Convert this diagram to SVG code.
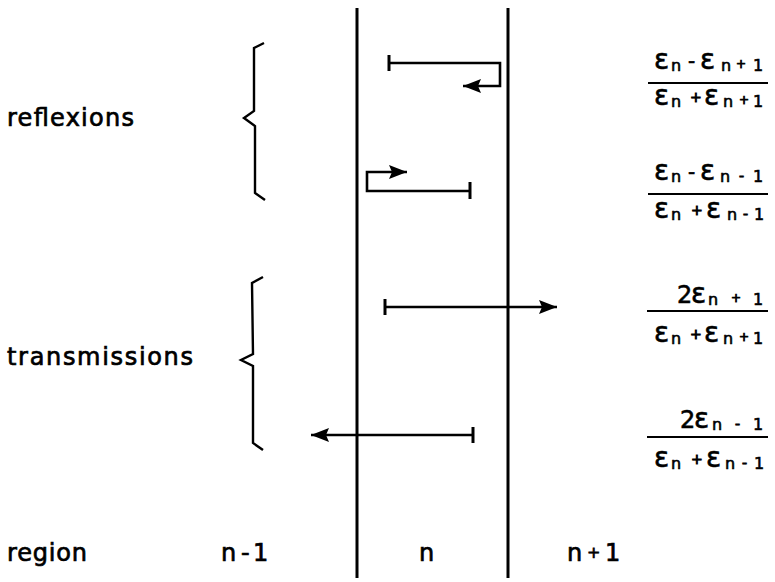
<svg xmlns="http://www.w3.org/2000/svg" width="775" height="582" viewBox="0 0 775 582">
  <style>
    text { font-family: "DejaVu Sans", "Liberation Sans", sans-serif; fill: #000; stroke: #000; stroke-width: 0.6; }
    .lbl { font-size: 24px; stroke-width: 0.7; }
    .eps { font-size: 28px; }
    .sym { font-size: 20px; }
    .two { font-size: 24px; }
    .sub { font-size: 16px; }
    .ss { font-size: 12px; stroke-width: 0.8; }
    .op { font-size: 14px; stroke-width: 0.9; }
    .wall { stroke: #000; stroke-width: 3; fill: none; }
    .ray { stroke: #000; stroke-width: 2.6; fill: none; stroke-linejoin: miter; }
    .brace { stroke: #000; stroke-width: 2.4; fill: none; stroke-linejoin: miter; }
    .bar { stroke: #000; stroke-width: 3; }
    .frac { stroke: #000; stroke-width: 2.2; }
  </style>
  <defs>
    <marker id="head" viewBox="0 0 18 14" refX="18" refY="7" markerWidth="18" markerHeight="14" markerUnits="userSpaceOnUse" orient="auto">
      <path d="M0,0 L18,7 L0,14 L3,7 Z" fill="#000"/>
    </marker>
  </defs>

  <!-- interfaces between regions -->
  <g id="interfaces">
    <line class="wall" x1="357" y1="8" x2="357" y2="578"/>
    <line class="wall" x1="508" y1="8" x2="508" y2="578"/>
  </g>

  <!-- left labels with braces -->
  <g id="reflexions-label">
    <text class="lbl" x="7" y="126" textLength="127" lengthAdjust="spacing">reflexions</text>
    <path class="brace" d="M264,43 L254,48 L254,111 L244,118 L255,126 L255,193 L265,200"/>
  </g>
  <g id="transmissions-label">
    <text class="lbl" x="7" y="365" textLength="186" lengthAdjust="spacing">transmissions</text>
    <path class="brace" d="M263,277 L252,283 L253,354 L241,360 L253,366 L253,443 L263,450"/>
  </g>

  <!-- region labels -->
  <g id="region-labels">
    <text class="lbl" x="7" y="561" textLength="80" lengthAdjust="spacing">region</text>
    <text class="lbl" x="221 241 253" y="561">n-1</text>
    <text class="lbl" x="419" y="561">n</text>
    <text class="lbl" y="561"><tspan x="567">n</tspan><tspan x="587" y="558" style="font-size:16px">+</tspan><tspan x="605" y="561">1</tspan></text>
  </g>

  <!-- wave paths -->
  <g id="connectors">
    <path class="ray" d="M389,63 L500,63 L500,86 L463,86" marker-end="url(#head)"/>
    <line class="bar" x1="389" y1="55" x2="389" y2="71"/>
    <path class="ray" d="M470,191 L367,191 L367,172 L407,172" marker-end="url(#head)"/>
    <line class="bar" x1="470" y1="182" x2="470" y2="199"/>
    <path class="ray" d="M385,307 L557,307" marker-end="url(#head)"/>
    <line class="bar" x1="385" y1="299" x2="385" y2="315"/>
    <path class="ray" d="M473,435 L311,435" marker-end="url(#head)"/>
    <line class="bar" x1="473" y1="427" x2="473" y2="443"/>
  </g>

  <!-- coefficients: each line is one text run -->
  <g id="coef-r-right">
    <text><tspan class="eps" x="654" y="69">ε</tspan><tspan class="sub" x="671" y="71">n</tspan><tspan class="sym" x="688" y="68">-</tspan><tspan class="eps" x="700" y="69">ε</tspan><tspan class="sub" x="721" y="71">n</tspan><tspan class="ss" x="736" y="68">+</tspan><tspan class="sub" x="753" y="71">1</tspan></text>
    <line class="frac" x1="648" y1="83" x2="768" y2="83"/>
    <text><tspan class="eps" x="654" y="105">ε</tspan><tspan class="sub" x="671" y="107">n</tspan><tspan class="op" x="690" y="102">+</tspan><tspan class="eps" x="704" y="105">ε</tspan><tspan class="sub" x="723" y="107">n</tspan><tspan class="ss" x="739" y="104">+</tspan><tspan class="sub" x="753" y="107">1</tspan></text>
  </g>
  <g id="coef-r-left">
    <text><tspan class="eps" x="654" y="180">ε</tspan><tspan class="sub" x="671" y="182">n</tspan><tspan class="sym" x="688" y="179">-</tspan><tspan class="eps" x="700" y="180">ε</tspan><tspan class="sub" x="720" y="182">n</tspan><tspan class="op" x="739" y="181">-</tspan><tspan class="sub" x="753" y="182">1</tspan></text>
    <line class="frac" x1="648" y1="194" x2="768" y2="194"/>
    <text><tspan class="eps" x="654" y="218">ε</tspan><tspan class="sub" x="671" y="220">n</tspan><tspan class="op" x="691" y="215">+</tspan><tspan class="eps" x="706" y="218">ε</tspan><tspan class="sub" x="727" y="220">n</tspan><tspan class="op" x="743" y="219">-</tspan><tspan class="sub" x="754" y="220">1</tspan></text>
  </g>
  <g id="coef-t-right">
    <text><tspan class="two" x="677" y="303">2</tspan><tspan class="eps" x="691" y="303">ε</tspan><tspan class="sub" x="708" y="305">n</tspan><tspan class="ss" x="731" y="302">+</tspan><tspan class="sub" x="753" y="305">1</tspan></text>
    <line class="frac" x1="647" y1="311" x2="768" y2="311"/>
    <text><tspan class="eps" x="654" y="342">ε</tspan><tspan class="sub" x="671" y="344">n</tspan><tspan class="op" x="690" y="339">+</tspan><tspan class="eps" x="704" y="342">ε</tspan><tspan class="sub" x="723" y="344">n</tspan><tspan class="ss" x="739" y="341">+</tspan><tspan class="sub" x="753" y="344">1</tspan></text>
  </g>
  <g id="coef-t-left">
    <text><tspan class="two" x="680" y="428">2</tspan><tspan class="eps" x="694" y="428">ε</tspan><tspan class="sub" x="712" y="430">n</tspan><tspan class="op" x="735" y="429">-</tspan><tspan class="sub" x="753" y="430">1</tspan></text>
    <line class="frac" x1="647" y1="437" x2="768" y2="437"/>
    <text><tspan class="eps" x="654" y="467">ε</tspan><tspan class="sub" x="671" y="469">n</tspan><tspan class="op" x="691" y="464">+</tspan><tspan class="eps" x="706" y="467">ε</tspan><tspan class="sub" x="725" y="469">n</tspan><tspan class="op" x="742" y="468">-</tspan><tspan class="sub" x="754" y="469">1</tspan></text>
  </g>
</svg>
